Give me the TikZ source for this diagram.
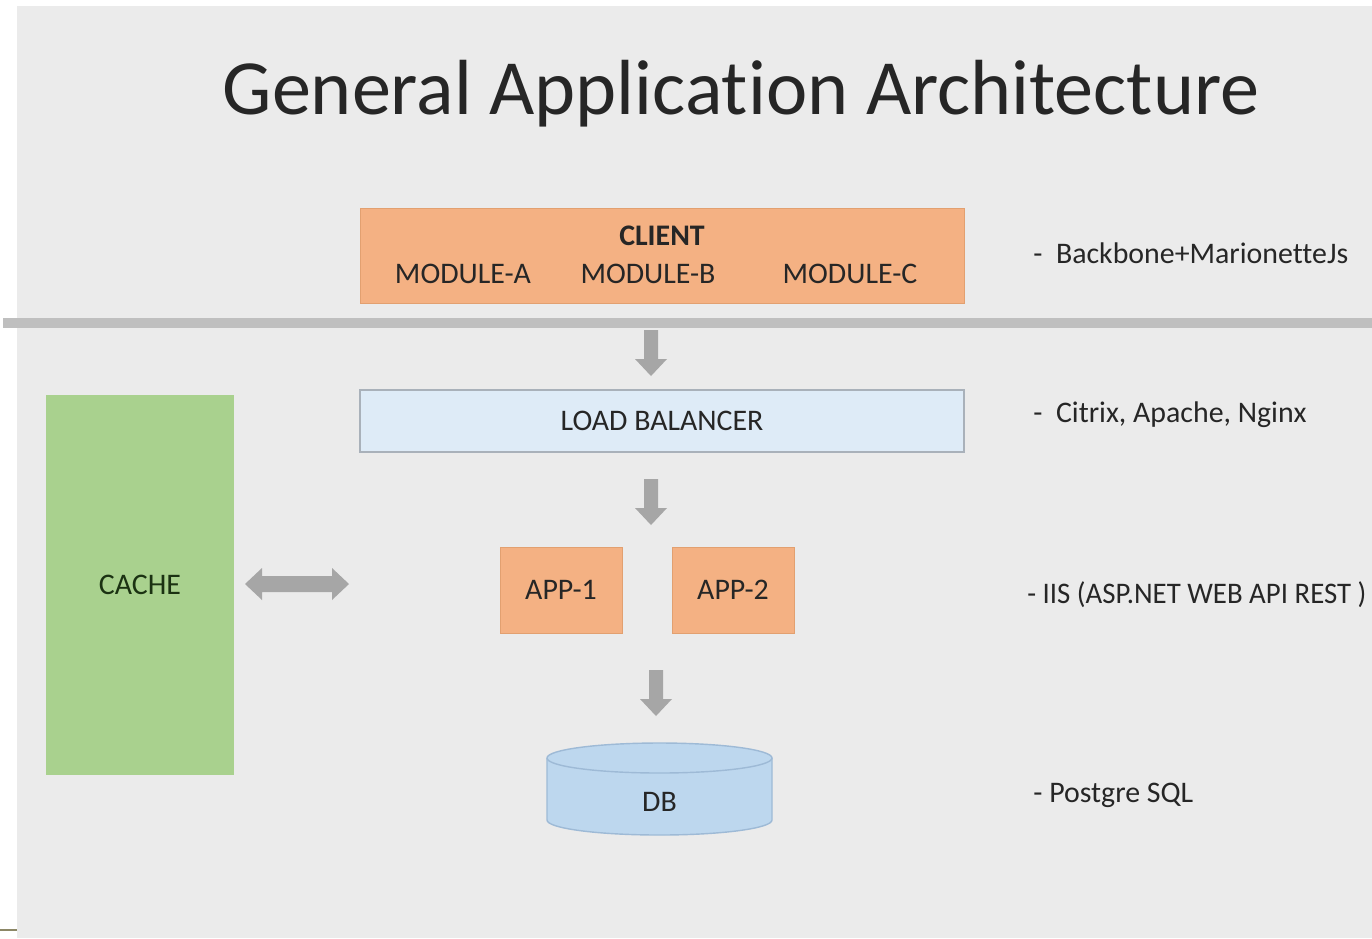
\documentclass[tikz,border=0pt]{standalone}
\usepackage{fontspec}
\setmainfont{Carlito}[Ligatures=NoCommon]
\definecolor{bg}{HTML}{EBEBEB}
\definecolor{sepgray}{HTML}{BFBFBF}
\definecolor{arrowgray}{HTML}{A6A6A6}
\definecolor{orangefill}{HTML}{F4B183}
\definecolor{orangeedge}{HTML}{E2A070}
\definecolor{lbfill}{HTML}{DEEBF7}
\definecolor{lbedge}{HTML}{A9B1BA}
\definecolor{cachefill}{HTML}{A9D18E}
\definecolor{cachetext}{HTML}{1B3212}
\definecolor{dbfill}{HTML}{BDD7EE}
\definecolor{dbedge}{HTML}{9EBAD6}
\definecolor{txt}{HTML}{262626}
\definecolor{olive}{HTML}{8C8766}
\begin{document}
\begin{tikzpicture}[x=0.02cm,y=-0.02cm,
  body/.style={font=\fontsize{17}{20}\selectfont, text=txt, inner sep=0pt},
  boxo/.style={fill=orangefill, draw=orangeedge, line width=0.4pt, inner sep=0pt},
  label/.style={body, anchor=base west},
  darrow/.pic={\fill[arrowgray] (-7,0) -- (7,0) -- (7,29) -- (16,29) -- (0,46) -- (-16,29) -- (-7,29) -- cycle;},
  harrow/.pic={\fill[arrowgray] (-52,0) -- (-35,-16) -- (-35,-8) -- (35,-8) -- (35,-16) -- (52,0) -- (35,16) -- (35,8) -- (-35,8) -- (-35,16) -- cycle;}
]
\useasboundingbox (0,0) rectangle (1372,938);
\clip (0,0) rectangle (1372,938);
\fill[white] (0,0) rectangle (1372,938);
\fill[bg] (17,6) rectangle (1372,938);
\fill[sepgray] (3,318) rectangle (1372,328);
\draw[olive, line width=1.6pt] (0,930) -- (17,930);

% title
\node[anchor=base, text=txt, inner sep=0pt, font=\fontsize{44.5}{50}\selectfont] (title) at (741,114) {General Application Architecture};

% client
\node[boxo, minimum width=12.08cm, minimum height=1.9cm] (client) at (662,255.5) {};
\node[body, font=\fontsize{17}{20}\selectfont\bfseries, anchor=base] (clienttxt) at (662,245) {CLIENT};
\node[body, anchor=base] (moda) at (463,283) {MODULE-A};
\node[body, anchor=base] (modb) at (648,283) {MODULE-B};
\node[body, anchor=base] (modc) at (850,283) {MODULE-C};

% load balancer
\node[body, fill=lbfill, draw=lbedge, line width=1pt, minimum width=12.08cm, minimum height=1.24cm] (lb) at (662,421) {LOAD BALANCER};

% apps
\node[body, boxo, minimum width=2.44cm, minimum height=1.72cm] (app1) at (561,590) {APP-1};
\node[body, boxo, minimum width=2.44cm, minimum height=1.72cm] (app2) at (733,590) {APP-2};

% cache
\node[body, fill=cachefill, text=cachetext, minimum width=3.76cm, minimum height=7.6cm] (cache) at (140,585) {CACHE};

% db cylinder
\fill[dbfill] (547,758) -- (547,820) arc[start angle=180, end angle=0, x radius=112.5, y radius=15] -- (772,758) -- cycle;
\draw[dbedge, line width=0.8pt] (547,758) -- (547,820) arc[start angle=180, end angle=0, x radius=112.5, y radius=15] -- (772,758);
\draw[dbedge, line width=0.8pt, fill=dbfill] (659.5,758) ellipse[x radius=112.5, y radius=15];
\node[body, anchor=base] (db) at (659.5,811) {DB};

% arrows
\pic at (651,330) {darrow};
\pic at (651,479) {darrow};
\pic at (656,670) {darrow};
\pic at (297,584) {harrow};

% right labels
\node[label] (l1) at (1033,263) {-\ \ Backbone+MarionetteJs};
\node[label] (l2) at (1033,422) {-\ \ Citrix, Apache, Nginx};
\node[label, xscale=0.965] (l3) at (1027,603) {- IIS (ASP.NET WEB API REST )};
\node[label] (l4) at (1033,802) {- Postgre SQL};
\end{tikzpicture}
\end{document}
